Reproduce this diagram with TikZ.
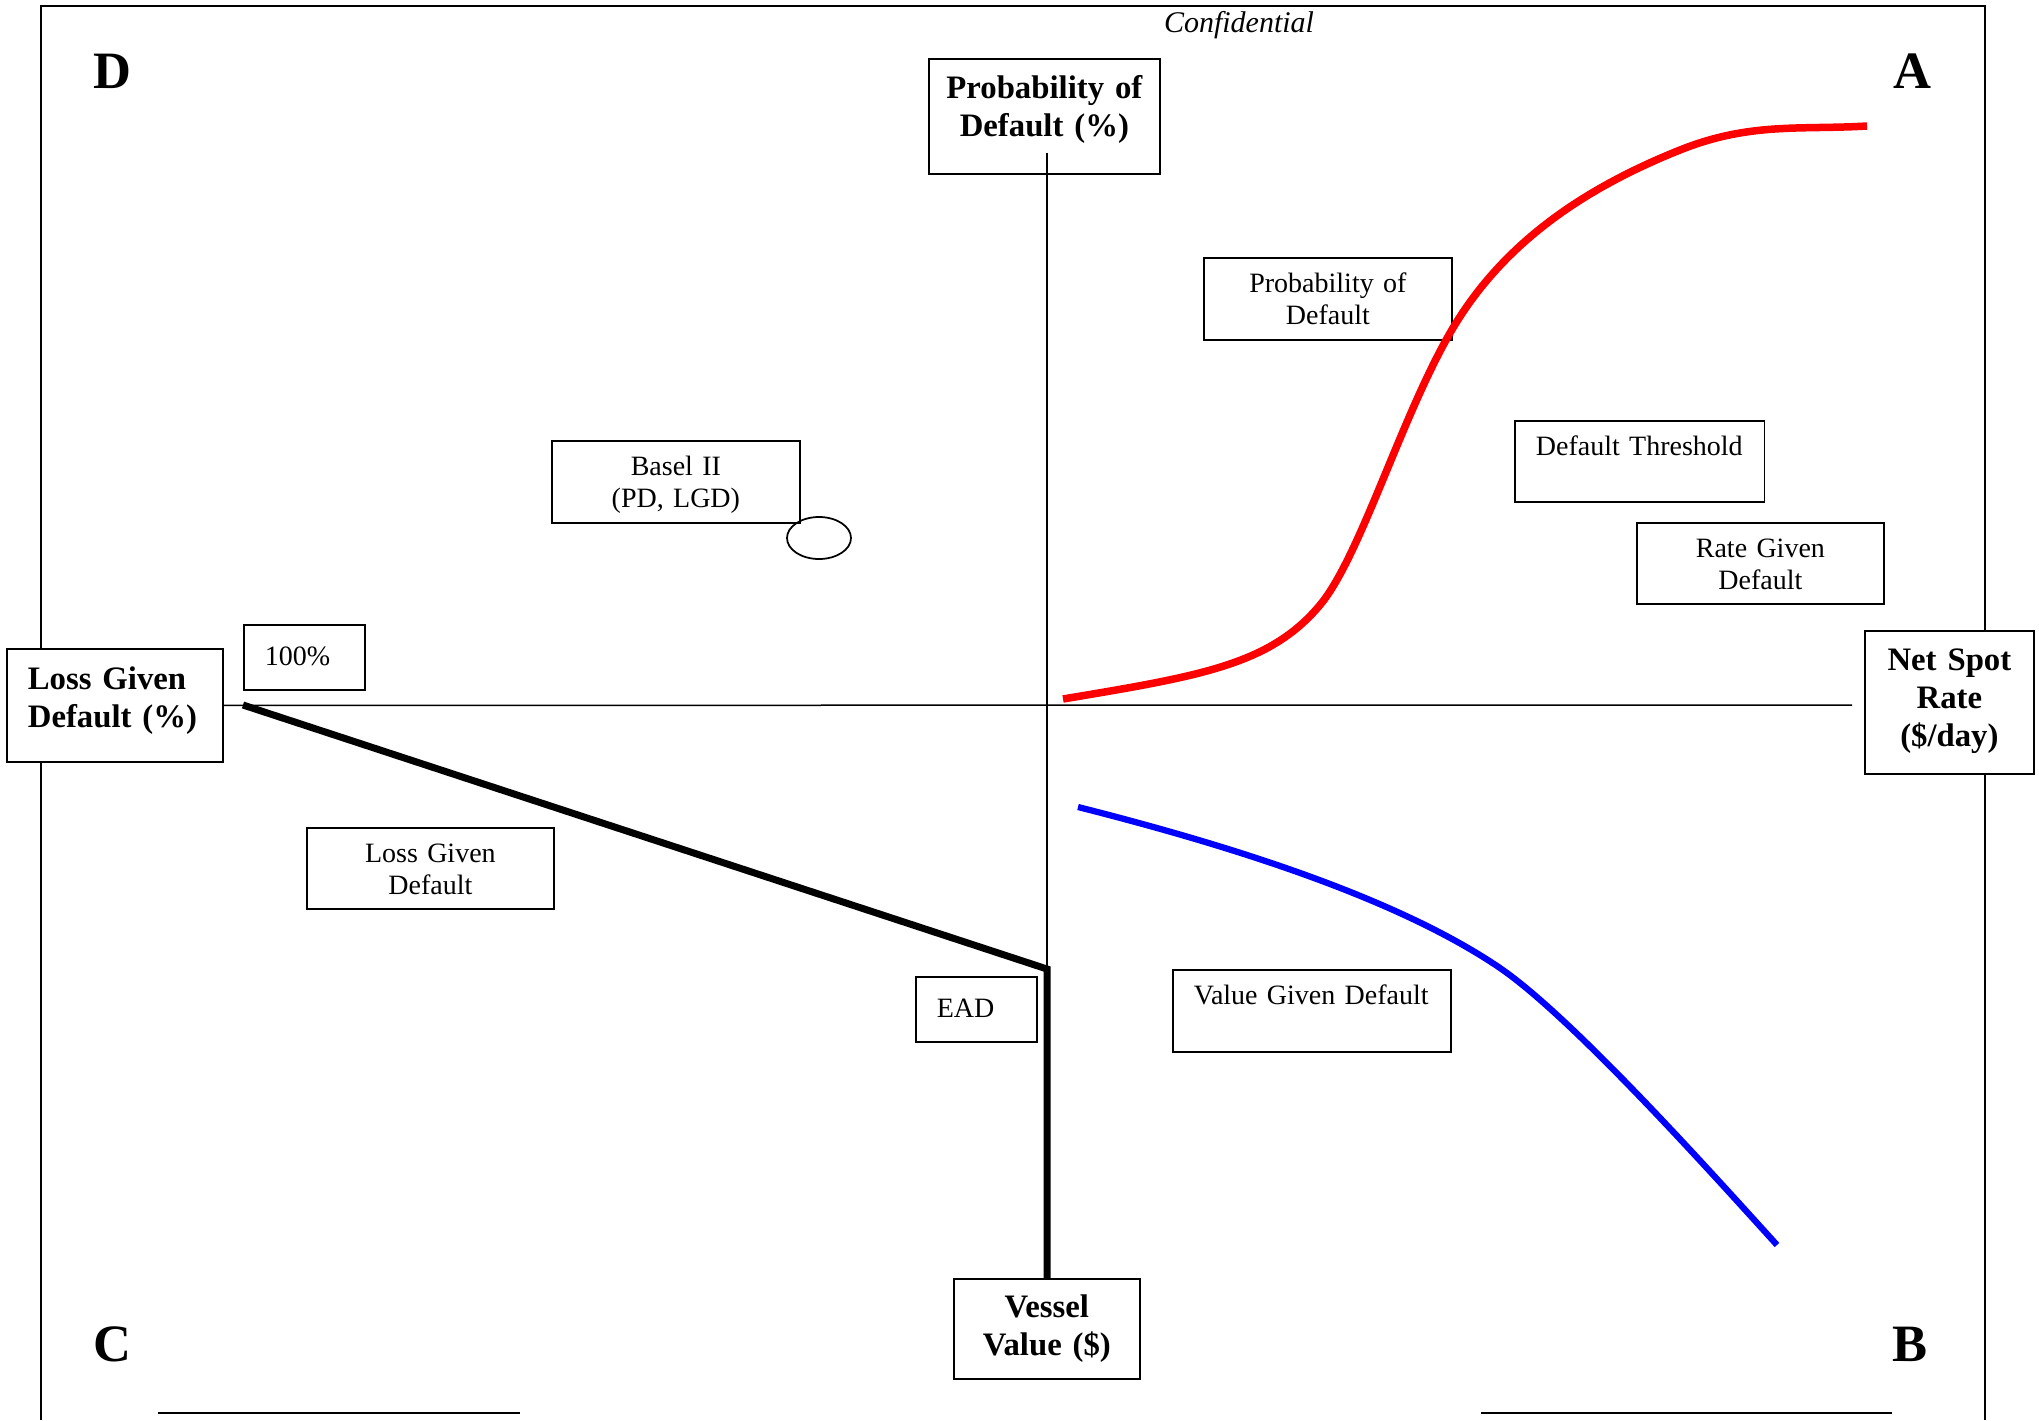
\documentclass[tikz,border=0pt]{standalone}
\usepackage{fontspec}
\setmainfont{Liberation Serif}
\usetikzlibrary{shapes.geometric}

\tikzset{
  tbox/.style={draw, line width=0.7pt, fill=white, inner sep=0pt, anchor=north west,
    align=center, font=\fontsize{11.2}{12.6}\selectfont},
  hbox/.style={tbox, font=\fontsize{13.1}{15.2}\selectfont\bfseries},
  lbox/.style={tbox, align=left, inner xsep=8.4pt},
  corner/.style={anchor=base, font=\fontsize{21}{25}\selectfont\bfseries},
  frame/.style={line width=0.8pt},
  axis/.style={line width=0.6pt},
  heavy/.style={line width=2.8pt},
}

\begin{document}
\begin{tikzpicture}[x=0.4pt, y=-0.4pt]
    \useasboundingbox (0,0) rectangle (2039,1420);

    % page frame
    \draw[frame] (41,1420) -- (41,6) -- (1985,6) -- (1985,1420);
    \draw[frame] (158,1413) -- (520,1413);
    \draw[frame] (1481,1413) -- (1892,1413);

    \node at (1239,32) (conf) [anchor=base, font=\fontsize{12}{14}\selectfont\itshape] {Confidential};

    % quadrants
    \node at (112,88) (qD) [corner] {D};
    \node at (1912,88) (qA) [corner] {A};
    \node at (112,1361) (qC) [corner] {C};
    \node at (1910,1361) (qB) [corner] {B};

    % axes labels
    \node at (928,58) (pdaxis) [hbox, text width=92.4pt, text height=16pt, text depth=30pt] {Probability of\\Default (\%)};
    \node at (6,648) (lgdaxis) [hbox, align=left, inner xsep=8.4pt, text width=69.6pt, text height=16.4pt, text depth=28.8pt] {Loss Given\\Default (\%)};
    \node at (1864,630) (rate) [hbox, text width=67.6pt, text height=16pt, text depth=41.2pt] {Net Spot\\Rate\\(\$/day)};
    \node at (953,1278) (vessel) [hbox, text width=74.4pt, text height=15.6pt, text depth=24.4pt] {Vessel\\Value (\$)};

    % notes
    \node at (243,624) (full) [lbox, text width=31.6pt, text height=16.4pt, text depth=9.6pt] {100\%};
    \node at (915,976) (ead) [lbox, text width=31.6pt, text height=16.4pt, text depth=9.6pt] {EAD};
    \node at (551,440) (basel) [tbox, text width=99.2pt, text height=14pt, text depth=18.8pt] {Basel II\\(PD, LGD)};
    \node at (819,538) (bubble) [draw, ellipse, line width=0.7pt, minimum width=25.6pt, minimum height=16.8pt, inner sep=0pt] {};
    \node at (1203,257) (pd) [tbox, text width=99.2pt, text height=14pt, text depth=18.8pt] {Probability of\\Default};
    \node at (1514,420) (threshold) [lbox, text width=83pt, text height=14pt, text depth=18.4pt] {Default Threshold};
    \node at (1636,522) (rgd) [tbox, text width=98.8pt, text height=14pt, text depth=18.4pt] {Rate Given\\Default};
    \node at (306,827) (lgd) [tbox, text width=98.8pt, text height=14pt, text depth=18.4pt] {Loss Given\\Default};
    \node at (1172,969) (vgd) [lbox, text width=94.4pt, text height=14pt, text depth=18.8pt] {Value Given Default};

    \coordinate (top) at (1047,153);
    \coordinate (knee) at (1047,969);
    \coordinate (axisend) at (1852,705);
    \coordinate (lgdstart) at (243,705);

    \draw[axis] (lgdaxis.east) -- (axisend);
    \draw[axis] (top) -- (knee);
    \draw[heavy] (lgdstart) -- (knee) -- (knee |- vessel.north);

    % curves
    \draw[red, line width=3pt] (1063,699) .. controls (1200,676) and (1270,665) .. (1320,605)
      .. controls (1360,557) and (1400,420) .. (1450,333)
      .. controls (1500,246) and (1580,190) .. (1680,150)
      .. controls (1750,122) and (1800,130) .. (1867,126);
    \draw[blue, line width=2.5pt] (1078,807) .. controls (1240,848) and (1400,900) .. (1500,968)
      .. controls (1570,1016) and (1700,1160) .. (1777,1245);
\end{tikzpicture}
\end{document}
